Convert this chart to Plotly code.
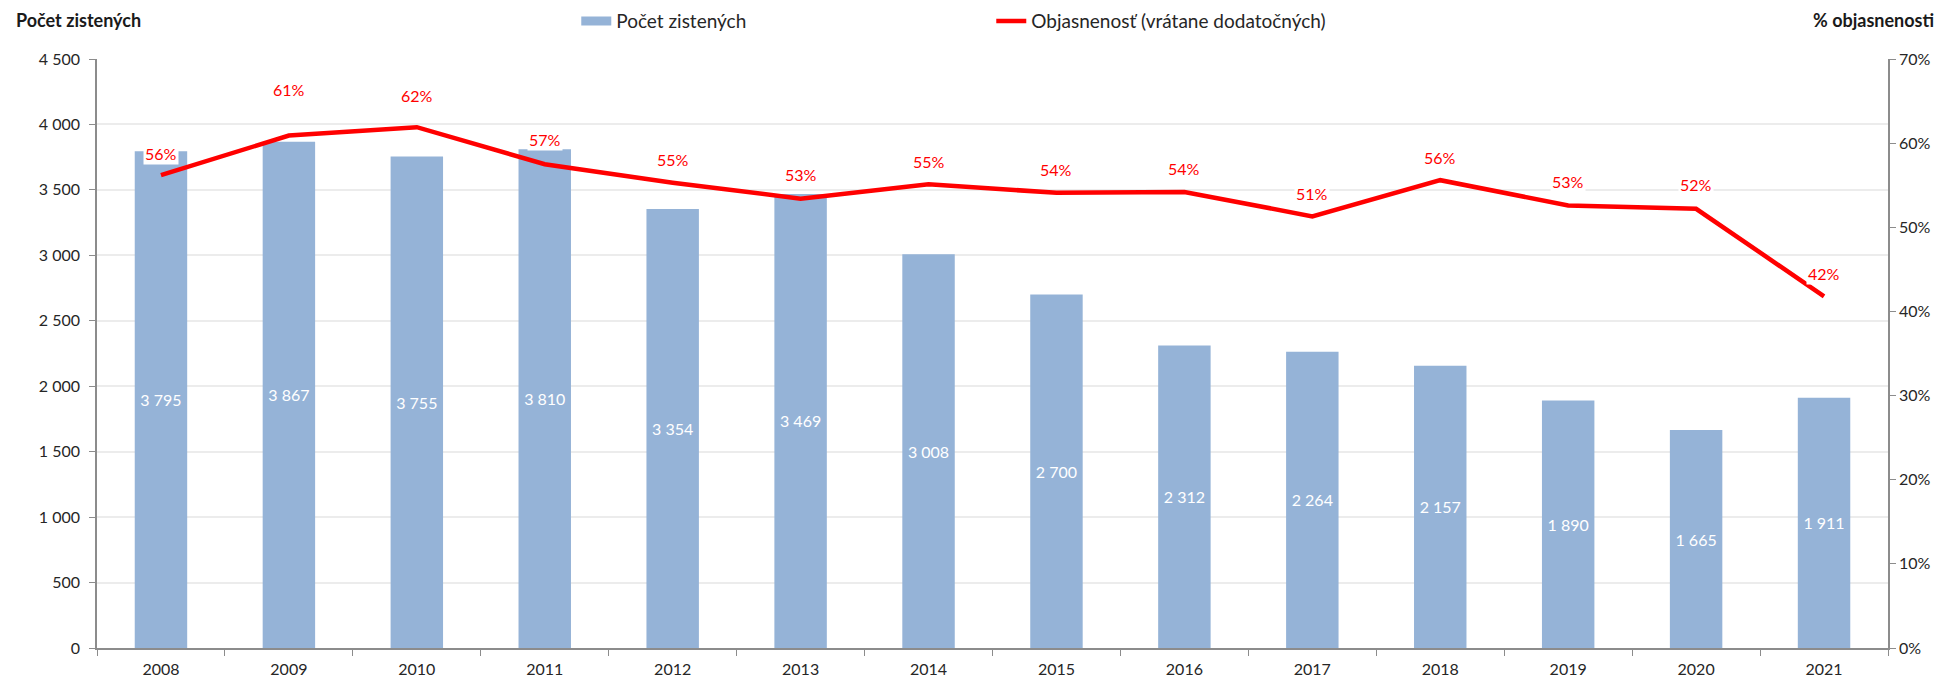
import plotly.graph_objects as go

# Data
years = ["2008", "2009", "2010", "2011", "2012", "2013", "2014",
         "2015", "2016", "2017", "2018", "2019", "2020", "2021"]
counts = [3795, 3867, 3755, 3810, 3354, 3469, 3008,
          2700, 2312, 2264, 2157, 1890, 1665, 1911]
clearance = [0.562, 0.609, 0.619, 0.575, 0.553, 0.534, 0.551,
             0.541, 0.542, 0.513, 0.556, 0.526, 0.522, 0.418]

# Vertical offset (px) of each percentage label above its point
label_shift = [22, 46, 32, 25, 23, 24, 23, 23, 23, 23, 23, 24, 24, 23]

FONT = "Lato"
BAR_COLOR = "#95B3D7"
LINE_COLOR = "#FF0000"
AXIS_COLOR = "#8c8c8c"
GRID_COLOR = "#ececec"
TEXT_COLOR = "#262626"

bar_text = [f"{v:,}".replace(",", " ") for v in counts]

fig = go.Figure()

# Legend entry for the bars, drawn as a wide flat swatch
fig.add_trace(go.Scatter(
    x=[years[0]], y=[None], name="Počet zistených", mode="lines",
    line=dict(color=BAR_COLOR, width=9), legendgroup="bars",
    hoverinfo="skip",
))

fig.add_trace(go.Bar(
    x=years, y=counts, name="Počet zistených", showlegend=False,
    legendgroup="bars",
    marker=dict(color=BAR_COLOR, line=dict(width=0)),
    text=bar_text, textposition="inside", insidetextanchor="middle",
    textfont=dict(color="white", size=16, family=FONT),
    textangle=0,
))

fig.add_trace(go.Scatter(
    x=years, y=clearance, name="Objasnenosť (vrátane dodatočných)",
    mode="lines", yaxis="y2",
    line=dict(color=LINE_COLOR, width=4.5),
))

# Percentage labels, positioned by category index on the x axis
for i, (v, dy) in enumerate(zip(clearance, label_shift)):
    fig.add_annotation(
        x=i, xref="x", y=v, yref="y2", text=f"{round(v * 100)}%",
        showarrow=False, yshift=dy,
        font=dict(color=LINE_COLOR, size=16, family=FONT),
        bgcolor="white", borderpad=1,
    )

# Axis titles placed above the plot corners
fig.add_annotation(x=0, xref="paper", xanchor="left", xshift=-83,
                   y=1, yref="paper", yanchor="bottom", yshift=26,
                   text="<b>Počet zistených</b>", showarrow=False,
                   font=dict(size=18, family=FONT, color="#1a1a1a"))
fig.add_annotation(x=1, xref="paper", xanchor="right", xshift=48,
                   y=1, yref="paper", yanchor="bottom", yshift=26,
                   text="<b>% objasnenosti</b>", showarrow=False,
                   font=dict(size=18, family=FONT, color="#1a1a1a"))

fig.update_layout(
    width=1941, height=680,
    margin=dict(l=97, r=53, t=59, b=32, autoexpand=False),
    paper_bgcolor="white", plot_bgcolor="white",
    font=dict(family=FONT, size=16, color=TEXT_COLOR),
    separators=", ",
    bargap=0.59,
    showlegend=True,
    legend=dict(orientation="h", x=0.2676, xanchor="left",
                yref="container", y=0.969, yanchor="middle",
                font=dict(size=19, family=FONT, color=TEXT_COLOR),
                entrywidth=370, entrywidthmode="pixels",
                itemwidth=30, tracegroupgap=0, bgcolor="rgba(0,0,0,0)"),
    xaxis=dict(type="category", range=[-0.5, len(years) - 0.5],
               showline=True, linecolor=AXIS_COLOR, tickangle=0,
               linewidth=1.5, ticks="outside", tickson="boundaries",
               ticklen=6, tickcolor=AXIS_COLOR, showgrid=False,
               ticklabelstandoff=6, automargin=False,
               tickfont=dict(size=16, family=FONT, color=TEXT_COLOR)),
    yaxis=dict(range=[0, 4500], dtick=500, tickformat=",d",
               showline=True, linecolor=AXIS_COLOR, linewidth=1.5,
               ticks="outside", ticklen=6, tickcolor=AXIS_COLOR,
               showgrid=True, gridcolor=GRID_COLOR, gridwidth=1.5,
               zeroline=False, ticklabelstandoff=6, automargin=False,
               tickfont=dict(size=16, family=FONT, color=TEXT_COLOR)),
    yaxis2=dict(range=[0, 0.7], dtick=0.1, tickformat=".0%",
                overlaying="y", side="right", showline=True,
                linecolor=AXIS_COLOR, linewidth=1.5, ticks="outside",
                ticklen=6, tickcolor=AXIS_COLOR, showgrid=False,
                zeroline=False, automargin=False,
                tickfont=dict(size=16, family=FONT, color=TEXT_COLOR)),
)

fig.write_html("out.html")
